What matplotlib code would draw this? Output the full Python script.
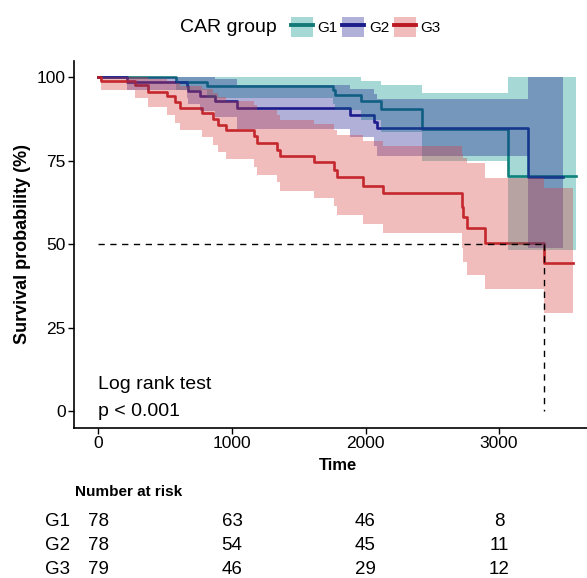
import matplotlib
matplotlib.use("Agg")
import matplotlib.pyplot as plt
from matplotlib.patches import Patch
from matplotlib.lines import Line2D
from matplotlib.transforms import blended_transform_factory

plt.rcParams['font.family'] = ['Liberation Sans', 'DejaVu Sans']

# Kaplan-Meier steps (time, survival %, 95% CI)
g1_time = [0, 580, 810, 1760, 1775, 1965, 2115, 2421, 3070, 3577]
g1_surv = [100, 98.7, 97.4, 96.1, 94.8, 92.9, 90.5, 84.5, 70.4, 70.4]
g1_low = [100, 96.2, 93.8, 92.0, 90.3, 87.2, 83.5, 75.0, 48.3, 48.3]
g1_high = [100, 100, 100, 100, 100, 99.0, 97.7, 95.2, 100, 100]

g2_time = [0, 211, 660, 673, 760, 873, 1040, 1884, 2060, 2084, 3220, 3478]
g2_surv = [100, 98.7, 97.4, 96.0, 94.3, 92.8, 90.8, 88.7, 86.7, 84.7, 70.2, 70.2]
g2_low = [100, 96.2, 93.8, 92.0, 90.0, 88.0, 84.5, 82.0, 79.5, 76.5, 48.8, 48.8]
g2_high = [100, 100, 100, 100, 100, 99.5, 97.8, 96.5, 95.0, 93.5, 100, 100]

g3_time = [0, 20, 273, 373, 511, 573, 610, 773, 860, 898, 953, 1165, 1185,
           1340, 1360, 1615, 1765, 1784, 1984, 2133, 2720, 2733, 2758, 2895,
           3335, 3555]
g3_surv = [100, 98.8, 97.6, 95.7, 94.4, 92.7, 90.9, 89.2, 87.4, 85.7, 84.2,
           82.5, 80.3, 78.2, 76.3, 74.6, 72.2, 70.0, 67.5, 65.3, 61.2, 58.2,
           54.8, 50.5, 44.3, 44.3]
g3_low = [100, 96.2, 93.7, 91.2, 88.7, 86.4, 84.2, 82.2, 79.7, 77.7, 75.4,
          73.2, 70.8, 68.7, 66.0, 63.8, 61.5, 58.8, 56.1, 53.4, 49.0, 44.8,
          40.8, 36.5, 29.3, 29.3]
g3_high = [100, 100, 100, 99.5, 99.0, 98.4, 97.5, 96.5, 95.3, 94.2, 93.0,
           91.7, 90.2, 88.7, 87.3, 86.0, 84.3, 82.7, 81.0, 79.3, 77.0, 75.8,
           74.3, 69.8, 66.8, 66.8]

median_g3 = 3335

groups = ["G1", "G2", "G3"]
line_colors = ["#137a78", "#1c1c8c", "#bb1a22"]
fill_colors = ["#009287", "#1d1d90", "#d74040"]

risk_times = [0, 1000, 2000, 3000]
risk_g1 = [78, 63, 46, 8]
risk_g2 = [78, 54, 45, 11]
risk_g3 = [79, 46, 29, 12]

W, H = 587, 578
fig = plt.figure(figsize=(W / 100, H / 100), dpi=100)
ax = fig.add_axes([74 / W, 150.3 / H, (W - 74) / W, 367 / H])

series = [(g1_time, g1_surv, g1_low, g1_high),
          (g2_time, g2_surv, g2_low, g2_high),
          (g3_time, g3_surv, g3_low, g3_high)]

for (t, s, lo, hi), lc in zip(series, line_colors):
    ax.step(t, s, where='post', color=lc, lw=1.9, zorder=2)
for (t, s, lo, hi), fc in zip(series, fill_colors):
    ax.fill_between(t, lo, hi, step='post', color=fc, alpha=0.35, lw=0, zorder=3)

# median survival of G3
ax.plot([0, median_g3], [50, 50], color='black', lw=1.0, ls=(0, (4.5, 4)), zorder=4)
ax.plot([median_g3, median_g3], [50, 0], color='black', lw=1.0, ls=(0, (4.5, 4)), zorder=4)

ax.text(0, 8, "Log rank test", fontsize=14, va='center', ha='left')
ax.text(0, 0, "p < 0.001", fontsize=14, va='center', ha='left')

ax.set_xlim(-183.5, 3659)
ax.set_ylim(-5, 105)
ax.set_xticks([0, 1000, 2000, 3000])
ax.set_yticks([0, 25, 50, 75, 100])
ax.tick_params(labelsize=12.5, length=4, width=1, colors='black', pad=2)
for side in ['top', 'right']:
    ax.spines[side].set_visible(False)
for side in ['left', 'bottom']:
    ax.spines[side].set_linewidth(1.2)
ax.set_xlabel("Time", fontsize=12, fontweight='bold', labelpad=5)
ax.xaxis.label.set_x((338 - 74) / (W - 74))
ax.set_ylabel("Survival probability (%)", fontsize=13, fontweight='bold', labelpad=4)

# legend on top
fig.text(180 / W, 1 - 27 / H, "CAR group", fontsize=14, va='center', ha='left')
handles = [(Patch(facecolor=fc, alpha=0.35, lw=0), Line2D([], [], color=lc, lw=2.8))
           for fc, lc in zip(fill_colors, line_colors)]
fig.legend(handles, groups, ncol=3, loc='center left',
           bbox_to_anchor=(290.6 / W, 1 - 27 / H), frameon=False, fontsize=11,
           handlelength=1.44, handleheight=1.55, handletextpad=0.3,
           columnspacing=0.32, borderpad=0, borderaxespad=0)

# number at risk table, aligned with the time axis
tr = blended_transform_factory(ax.transData, fig.transFigure)
fig.text(75 / W, 1 - 492 / H, "Number at risk", fontsize=11, fontweight='bold',
         va='center', ha='left')
for name, row, ypx in zip(groups, [risk_g1, risk_g2, risk_g3], [521.5, 546, 570]):
    fig.text(45 / W, 1 - ypx / H, name, fontsize=13.5, va='center', ha='left')
    for tt, n in zip(risk_times, row):
        ax.text(tt, 1 - ypx / H, str(n), transform=tr, fontsize=13.5,
                va='center', ha='center', clip_on=False)

fig.savefig("out.png", dpi=100)
